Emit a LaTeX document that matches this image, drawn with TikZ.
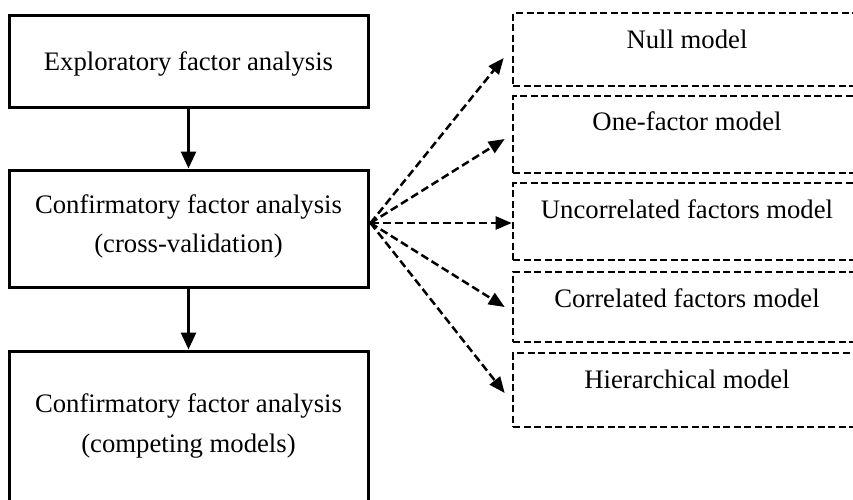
\documentclass[tikz,border=0pt]{standalone}
\usepackage{fontspec}
\setmainfont{Liberation Serif}
\usetikzlibrary{arrows.meta,calc}
\begin{document}
\begin{tikzpicture}[x=1pt,y=-1pt,
  leftbox/.style={draw,line width=3pt,inner sep=0pt,minimum width=359pt},
  rightbox/.style={draw,line width=2.6pt,dash pattern=on 7pt off 3.5pt,inner sep=0pt,minimum width=357pt},
  lbl/.style={anchor=base,inner sep=0pt,font=\fontsize{26.7}{40}\selectfont},
  solidarrow/.style={line width=2.8pt,-{Triangle[length=17pt,width=15pt]}},
  dasharrow/.style={line width=2.5pt,dash pattern=on 8pt off 4pt,-{Triangle[length=16pt,width=13pt]}}]
\clip (0,0) rectangle (853,499);
\useasboundingbox (0,0) rectangle (853,499);
\fill[white] (0,0) rectangle (853,499);
% left boxes
\node[leftbox,minimum height=92pt] (b1) at (188.5,61) {};
\node[leftbox,minimum height=117pt] (b2) at (188.5,228.5) {};
\node[leftbox,minimum height=156pt] (b3) at (188.5,429) {};
\node[lbl] (t1) at (188.5,70) {Exploratory factor analysis};
\node[lbl] (t2a) at (188.5,213) {Confirmatory factor analysis};
\node[lbl] (t2b) at (188.5,252) {(cross-validation)};
\node[lbl] (t3a) at (188.5,412) {Confirmatory factor analysis};
\node[lbl] (t3b) at (188.5,452) {(competing models)};
% right boxes
\node[rightbox,minimum height=73pt] (r1) at (691.5,49.5) {};
\node[rightbox,minimum height=77pt] (r2) at (691.5,134.5) {};
\node[rightbox,minimum height=77pt] (r3) at (691.5,221.5) {};
\node[rightbox,minimum height=70pt] (r4) at (691.5,307) {};
\node[rightbox,minimum height=74pt] (r5) at (691.5,390) {};
\node[lbl] (s1) at (687,48) {Null model};
\node[lbl] (s2) at (687,130) {One-factor model};
\node[lbl] (s3) at (687,218) {Uncorrelated factors model};
\node[lbl] (s4) at (687,307) {Correlated factors model};
\node[lbl] (s5) at (687,388) {Hierarchical model};
% connectors
\draw[solidarrow] (b1.south) -- (b2.north);
\draw[solidarrow] (b2.south) -- (b3.north);
\coordinate (src) at ($(b2.east)+(1,-5.5)$);
\draw[dasharrow] (src) -- ($(r1.west)+(-8,8.5)$);
\draw[dasharrow] (src) -- ($(r2.west)+(-7,4.5)$);
\draw[dasharrow] (src) -- ($(r3.west)+(0,1.5)$);
\draw[dasharrow] (src) -- ($(r4.west)+(-7,0)$);
\draw[dasharrow] (src) -- ($(r5.west)+(-7,3)$);
\end{tikzpicture}
\end{document}
